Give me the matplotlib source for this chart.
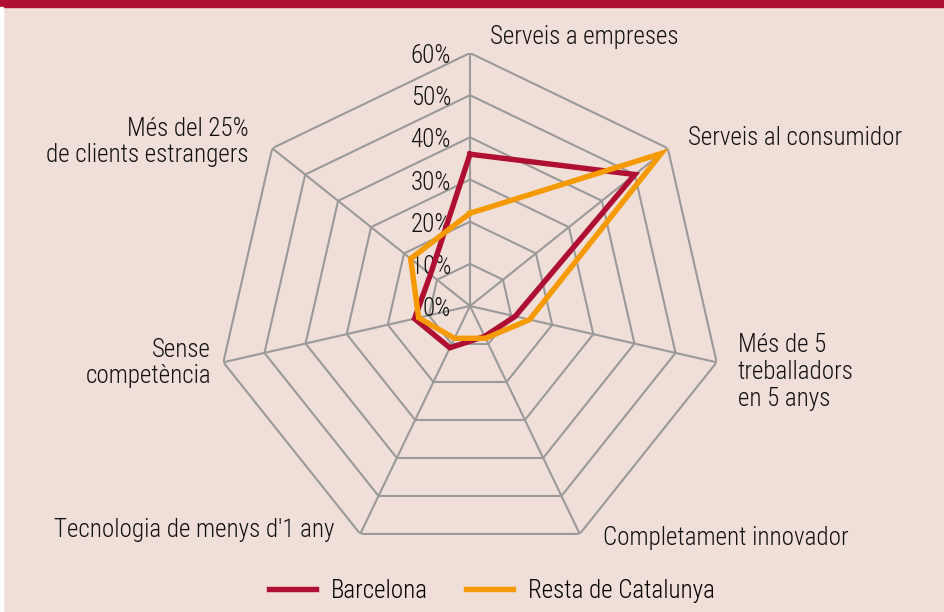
import numpy as np
import matplotlib.pyplot as plt
from matplotlib.patches import Rectangle
from matplotlib.lines import Line2D

# dades
categories = ['Serveis a empreses', 'Serveis al consumidor',
              'Més de 5\ntreballadors\nen 5 anys', 'Completament innovador',
              "Tecnologia de menys d'1 any", 'Sense\ncompetència',
              'Més del 25%\nde clients estrangers']
barcelona = [36, 50, 11, 8, 11, 13.5, 12]
resta = [22, 58, 14.5, 8.5, 8.5, 12.5, 18]
levels = [0, 10, 20, 30, 40, 50, 60]
series_names = ['Barcelona', 'Resta de Catalunya']

BG = '#F0DED8'
RED = '#AF0F32'
ORANGE = '#F59A00'
GRID = '#9A9A9A'

plt.rcParams['font.family'] = ['Roboto Condensed', 'IBM Plex Sans Condensed', 'DejaVu Sans']
plt.rcParams['font.weight'] = 'light'
FS = 18

W, H = 945, 612
fig = plt.figure(figsize=(W / 100, H / 100), dpi=100, facecolor=BG)

# franja superior i vora esquerra
fig.patches.append(Rectangle((0, 1 - 7 / H), 1, 7 / H, transform=fig.transFigure,
                             color=RED, zorder=0))
fig.patches.append(Rectangle((0, 0), 3 / W, 1 - 7 / H, transform=fig.transFigure,
                             color='white', zorder=0))

cx, cy, R = 470, 306, 253
ax = fig.add_axes([(cx - R) / W, (H - cy - R) / H, 2 * R / W, 2 * R / H],
                  projection='polar')
ax.set_facecolor('none')
ax.set_theta_offset(np.pi / 2)
ax.set_theta_direction(-1)
ax.set_ylim(0, 60)
ax.grid(False)
ax.spines['polar'].set_visible(False)
ax.set_xticks([])
ax.set_yticks([])

n = len(categories)
angles = np.arange(n) * 2 * np.pi / n
closed = np.append(angles, angles[0])

# anells i radis
for lv in levels[1:]:
    ax.plot(closed, [lv] * (n + 1), color=GRID, lw=1.5, zorder=1)
for a in angles:
    ax.plot([a, a], [0, 60], color=GRID, lw=1.5, zorder=1)

# etiquetes de l'eix radial
for lv in levels:
    ax.annotate(f'{lv}%', xy=(0, lv), xytext=(-19, -3), textcoords='offset pixels',
                ha='right', va='center', fontsize=FS, color='#111111', zorder=2)

# sèries
ax.plot(closed, barcelona + barcelona[:1], color=RED, lw=3.9,
        solid_joinstyle='miter', zorder=3)
ax.plot(closed, resta + resta[:1], color=ORANGE, lw=3.9,
        solid_joinstyle='miter', zorder=4)

# etiquetes de categories (posicions en píxels)
label_pos = [(490, 37, 'left'), (688, 138, 'left'), (738, 372, 'left'),
             (603, 538, 'left'), (335, 530, 'right'), (211, 363, 'right'),
             (249, 142, 'right')]
for txt, (x, y, ha) in zip(categories, label_pos):
    fig.text(x / W, 1 - y / H, txt, ha=ha, va='center', multialignment=ha,
             fontsize=FS, color='#111111', linespacing=1.15)

handles = [Line2D([], [], color=RED, lw=3.9), Line2D([], [], color=ORANGE, lw=3.9)]
fig.legend(handles, series_names, loc='center', bbox_to_anchor=(492 / W, 1 - 591 / H),
           ncol=2, frameon=False, fontsize=FS, handlelength=1.9,
           handletextpad=0.6, columnspacing=1.5)

fig.savefig('out.png', dpi=100, facecolor=BG)
